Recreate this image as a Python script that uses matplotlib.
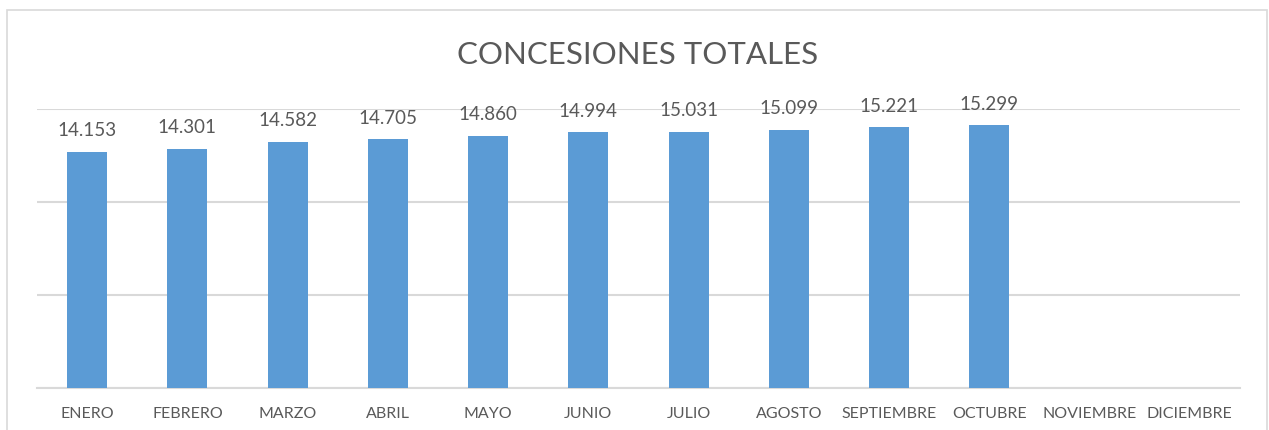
import matplotlib
matplotlib.use("Agg")
import matplotlib.pyplot as plt
import matplotlib.patches as mpatches
import numpy as np

months = ["ENERO", "FEBRERO", "MARZO", "ABRIL", "MAYO", "JUNIO", "JULIO",
          "AGOSTO", "SEPTIEMBRE", "OCTUBRE", "NOVIEMBRE", "DICIEMBRE"]
values = [14153, 14301, 14582, 14705, 14860, 14994, 15031, 15099, 15221, 15299]
value_labels = ["14.153", "14.301", "14.582", "14.705", "14.860", "14.994",
                "15.031", "15.099", "15.221", "15.299"]
y_ticks = [4000, 8000, 12000, 16000]

text_color = "#595959"
bar_color = "#5b9bd5"
grid_color = "#d9d9d9"

plt.rcParams["font.family"] = ["Lato", "DejaVu Sans"]

W, H = 1269, 430
fig = plt.figure(figsize=(W / 100, H / 100), dpi=100)
fig.patch.set_facecolor("white")

# chart frame (bottom edge runs past the image)
fig.patches.append(mpatches.Rectangle(
    (7 / W, -0.05), (1267 - 7) / W, (H - 10) / H + 0.05,
    transform=fig.transFigure, fill=False, edgecolor=grid_color, linewidth=1.2))

ax = fig.add_axes([37 / W, (H - 388) / H, 1203 / W, 279 / H])
x = np.arange(len(months))
bars = ax.bar(x[:len(values)], values, width=0.4, color=bar_color, zorder=3)

for bar, lbl in zip(bars, value_labels):
    ax.annotate(lbl, xy=(bar.get_x() + bar.get_width() / 2, bar.get_height()),
                xytext=(0, 9), textcoords="offset points", ha="center", va="bottom",
                color=text_color, fontsize=13.5)

ax.set_xlim(-0.5, len(months) - 0.5)
ax.set_ylim(y_ticks[0], y_ticks[-1])
ax.set_yticks(y_ticks)
ax.yaxis.grid(True, color=grid_color, linewidth=1.5, zorder=0)
ax.tick_params(axis="y", left=False, labelleft=False)
ax.set_xticks(x)
ax.set_xticklabels(months, color=text_color, fontsize=11.5)
ax.tick_params(axis="x", length=0, pad=14)
for s in ("top", "right", "left"):
    ax.spines[s].set_visible(False)
ax.spines["bottom"].set_color(grid_color)
ax.spines["bottom"].set_linewidth(1.5)
ax.set_facecolor("none")

fig.text(638 / W, 1 - 55 / H, "CONCESIONES TOTALES", ha="center", va="center",
         color=text_color, fontsize=22.5)

fig.savefig("out.png", dpi=100, facecolor="white")
